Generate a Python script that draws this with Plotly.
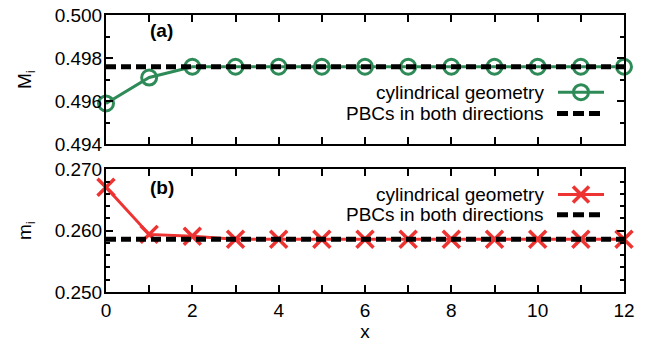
import plotly.graph_objects as go

x_vals = list(range(13))
M_cyl = [0.4959, 0.4971, 0.4976, 0.4976, 0.4976, 0.4976, 0.4976, 0.4976, 0.4976, 0.4976, 0.4976, 0.4976, 0.4976]
M_pbc = 0.4976
m_cyl = [0.2671, 0.2594, 0.2591, 0.2586, 0.2586, 0.2586, 0.2586, 0.2586, 0.2586, 0.2586, 0.2586, 0.2586, 0.2586]
m_pbc = 0.2586
legend_labels = ["cylindrical geometry", "PBCs in both directions"]
panel_labels = ["(a)", "(b)"]

GREEN = "#2e8b57"
RED = "#ee3333"
FONT = "Liberation Sans, Arial, sans-serif"
FS = 19
DASH = "10px,5px"

fig = go.Figure()

fig.add_trace(go.Scatter(x=x_vals, y=M_cyl, xaxis="x", yaxis="y", mode="lines+markers",
                         line=dict(color=GREEN, width=3),
                         marker=dict(symbol="circle-open", size=15, line=dict(width=3, color=GREEN)),
                         showlegend=False, cliponaxis=False))
fig.add_trace(go.Scatter(x=[x_vals[0], x_vals[-1]], y=[M_pbc, M_pbc], xaxis="x", yaxis="y", mode="lines",
                         line=dict(color="black", width=5, dash=DASH), showlegend=False))
fig.add_trace(go.Scatter(x=x_vals, y=m_cyl, xaxis="x2", yaxis="y2", mode="lines+markers",
                         line=dict(color=RED, width=3),
                         marker=dict(symbol="x-thin-open", size=17, line=dict(width=3.5, color=RED)),
                         showlegend=False, cliponaxis=False))
fig.add_trace(go.Scatter(x=[x_vals[0], x_vals[-1]], y=[m_pbc, m_pbc], xaxis="x2", yaxis="y2", mode="lines",
                         line=dict(color="black", width=5, dash=DASH), showlegend=False))

axis_common = dict(showline=True, linecolor="black", linewidth=2, mirror="ticks",
                   ticks="inside", ticklen=7, tickwidth=1.5, tickcolor="black",
                   showgrid=False, zeroline=False,
                   tickfont=dict(family=FONT, size=FS, color="black"))

fig.update_layout(
    width=660, height=345,
    margin=dict(l=106, r=36, t=5, b=53),
    plot_bgcolor="white", paper_bgcolor="white",
    font=dict(family=FONT, size=FS, color="black"),
    showlegend=False,
    xaxis=dict(domain=[0, 1], anchor="y", range=[0, 12], dtick=2, showticklabels=False,
               minor=dict(dtick=1, ticks="inside", ticklen=7, tickwidth=1.5, tickcolor="black"),
               **axis_common),
    yaxis=dict(domain=[0.533, 1], anchor="x", range=[0.494, 0.500], dtick=0.002, tickformat=".3f",
               ticklabelstandoff=-2,
               minor=dict(dtick=0.001, ticks="inside", ticklen=4, tickwidth=1.5, tickcolor="black"),
               title=dict(text="M<sub>i</sub>", font=dict(family=FONT, size=FS), standoff=18),
               **axis_common),
    xaxis2=dict(domain=[0, 1], anchor="y2", range=[0, 12], dtick=2,
                minor=dict(dtick=1, ticks="inside", ticklen=7, tickwidth=1.5, tickcolor="black"),
                title=dict(text="x", font=dict(family=FONT, size=FS), standoff=2),
                **axis_common),
    yaxis2=dict(domain=[0, 0.4425], anchor="x2", range=[0.250, 0.270], dtick=0.01, tickformat=".3f",
                ticklabelstandoff=-2,
                minor=dict(dtick=0.002, ticks="inside", ticklen=4, tickwidth=1.5, tickcolor="black"),
                title=dict(text="m<sub>i</sub>", font=dict(family=FONT, size=FS), standoff=18),
                **axis_common),
)

# panel labels
fig.add_annotation(x=1.29, y=0.4993, xref="x", yref="y", text="<b>" + panel_labels[0] + "</b>",
                   showarrow=False, font=dict(family=FONT, size=FS, color="black"))
fig.add_annotation(x=1.29, y=0.2671, xref="x2", yref="y2", text="<b>" + panel_labels[1] + "</b>",
                   showarrow=False, font=dict(family=FONT, size=FS, color="black"))

# manual legends (text right-aligned, sample on the right), in pixel coords -> paper
W, H = 660, 345
L, R, T, B = 106, 36, 5, 53
pw, ph = W - L - R, H - T - B

def px(xp):
    return (xp - L) / pw

def py(yp):
    return 1 - (yp - T) / ph

def legend(y_rows, color, marker):
    for i, (yy, lab) in enumerate(zip(y_rows, legend_labels)):
        fig.add_annotation(x=px(546), y=py(yy), xref="paper", yref="paper", text=lab,
                           xanchor="right", yanchor="middle", showarrow=False,
                           font=dict(family=FONT, size=FS, color="black"))
        if i == 0:
            fig.add_shape(type="line", xref="paper", yref="paper", x0=px(558), x1=px(604),
                          y0=py(yy), y1=py(yy), line=dict(color=color, width=3))
            if marker == "circle":
                fig.add_shape(type="circle", xref="paper", yref="paper", xsizemode="pixel", ysizemode="pixel",
                              xanchor=px(581), yanchor=py(yy), x0=-7.5, x1=7.5, y0=-7.5, y1=7.5,
                              line=dict(color=color, width=3))
            else:
                for s in (1, -1):
                    fig.add_shape(type="line", xref="paper", yref="paper", xsizemode="pixel", ysizemode="pixel",
                                  xanchor=px(581), yanchor=py(yy), x0=-8, x1=8, y0=-8 * s, y1=8 * s,
                                  line=dict(color=color, width=3.5))
        else:
            fig.add_shape(type="line", xref="paper", yref="paper", x0=px(557), x1=px(604),
                          y0=py(yy), y1=py(yy), line=dict(color="black", width=5, dash="11px,5px"))

legend([85, 107], GREEN, "circle")
legend([191, 212], RED, "x")

fig.write_html("out.html")
